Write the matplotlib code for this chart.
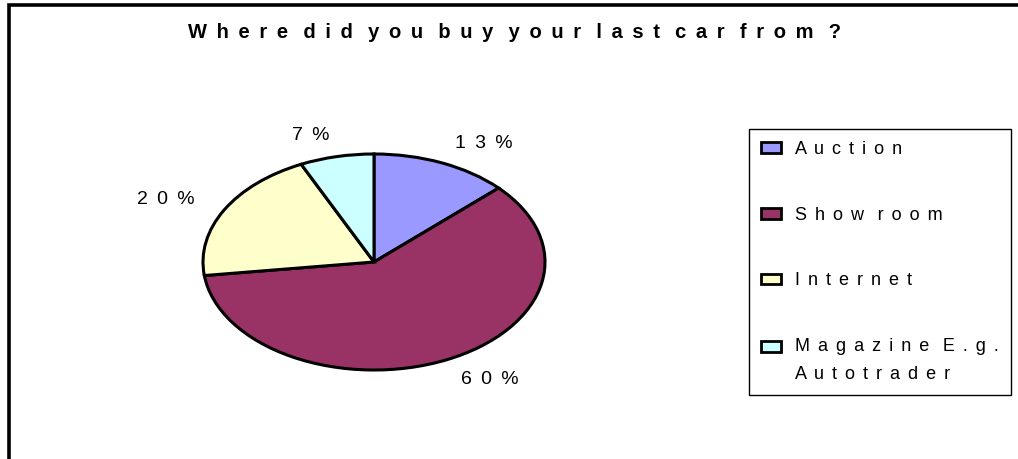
import matplotlib
matplotlib.use("Agg")
import matplotlib.pyplot as plt
from matplotlib.patches import Rectangle
from matplotlib.legend_handler import HandlerPatch

plt.rcParams["font.family"] = ["Liberation Sans", "DejaVu Sans"]

TITLE = "Where did you buy your last car from ?"
CATEGORIES = ["Auction", "Show room", "Internet", "Magazine E.g.\nAutotrader"]
SHARES = [13, 60, 20, 7]
COLORS = ["#9999FF", "#993366", "#FFFFCC", "#CCFFFF"]

W, H = 1018, 459
LEG_FONT = 13
LEG_LINESPACING = 1.85


def spaced(text, gap=" \u2009"):
    """Wide letter tracking, like the old office chart export."""
    lines = []
    for line in text.split("\n"):
        words = [gap.join(word) for word in line.split(" ")]
        lines.append("  \u2009".join(words))
    return "\n".join(lines)


def first_line_box(legend, orig_handle, xdescent, ydescent, width, height, fontsize):
    # keep the swatch level with the first line of a two-line label
    lift = 0.42 * fontsize * LEG_LINESPACING
    return Rectangle((-xdescent, -ydescent + lift), width, height)


fig = plt.figure(figsize=(W / 100, H / 100), dpi=100)

# outer chart-area border (only left and top edges fall inside the image)
fig.add_artist(Rectangle((9 / W, -0.2), 1.5, 1.2 - 5 / H, transform=fig.transFigure,
                         fill=False, edgecolor="black", linewidth=2.6))

fig.text(514 / W, 1 - 32 / H, spaced(TITLE), ha="center", va="center",
         fontsize=14.5, fontweight="bold")

# squashed pie: axes box is wider than tall, aspect left on auto
ax = fig.add_axes([160.25 / W, 62 / H, 427.5 / W, 270 / H])
wedges, texts = ax.pie(
    SHARES,
    labels=[spaced(f"{v}%") for v in SHARES],
    colors=COLORS,
    startangle=90,
    counterclock=False,
    labeldistance=1.2,
    wedgeprops=dict(edgecolor="black", linewidth=2.2),
    textprops=dict(fontsize=14),
)
ax.set_aspect("auto")
ax.set_xlim(-1.25, 1.25)
ax.set_ylim(-1.25, 1.25)

leg = fig.legend(
    wedges, [spaced(c, gap=" \u200a\u200a") for c in CATEGORIES],
    loc="upper left", bbox_to_anchor=(749 / W, 1 - 129 / H),
    fontsize=LEG_FONT, frameon=True, fancybox=False, shadow=False,
    edgecolor="black", framealpha=1,
    borderpad=0.66, labelspacing=2.7, handlelength=1.1, handleheight=0.55,
    handletextpad=0.78, borderaxespad=0,
    handler_map={wedges[3]: HandlerPatch(patch_func=first_line_box)},
)
leg.get_frame().set_linewidth(1)
for t in leg.get_texts():
    t.set_linespacing(LEG_LINESPACING)
for h in leg.legend_handles:
    h.set_linewidth(2)

fig.savefig("out.png", dpi=100)
